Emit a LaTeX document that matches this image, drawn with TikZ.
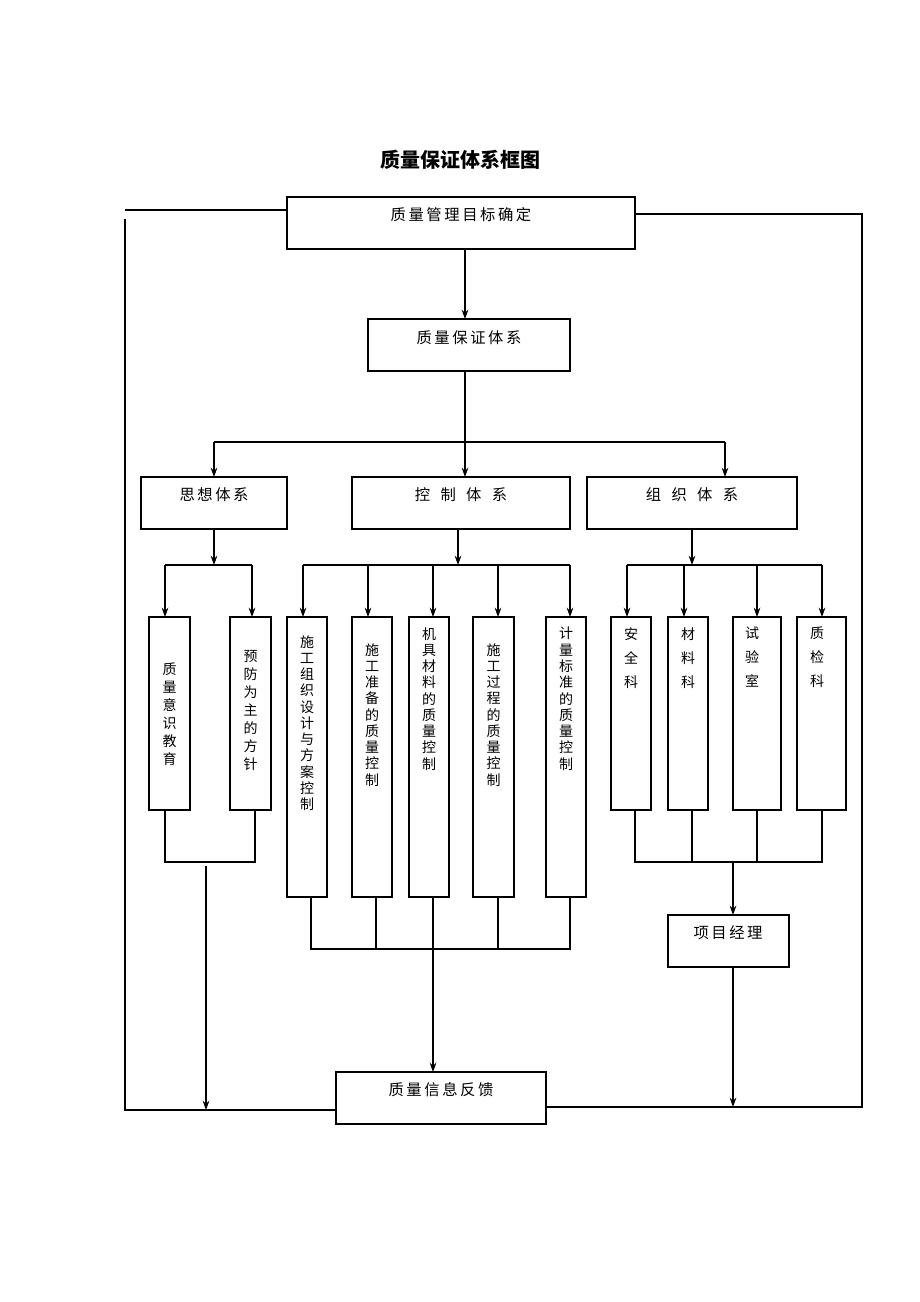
\documentclass[tikz,border=0pt]{standalone}
\usepackage{fontspec}
\setmainfont{Noto Sans CJK SC}
\usetikzlibrary{arrows.meta,positioning}
\tikzset{
  box/.style={draw,thick,inner sep=0},
  lbl/.style={font=\fontsize{11.5}{13}\selectfont,anchor=center},
  vcol/.style={text width=1.1em,align=center,anchor=north,inner sep=0},
  link/.style={thick},
  arr/.style={thick,-{Stealth[length=7pt,width=5pt]}}
}
\begin{document}
\begin{tikzpicture}[x=0.75pt,y=-0.75pt]
\useasboundingbox (0,0) rectangle (920,1302);
\node[font=\bfseries\fontsize{15}{17}\selectfont] (title) at (460,160) {质量保证体系框图};
% main boxes
\draw[box] (287,197) rectangle (635,249);
\coordinate (goal) at (465,249);
\node[lbl] (goaltxt) at (461,215) {质\,量\,管\,理\,目\,标\,确\,定};
\draw[box] (368,319) rectangle (570,371);
\node[lbl] (sys) at (469,338) {质\,量\,保\,证\,体\,系};
\draw[box] (141,477) rectangle (287,529);
\node[lbl] (think) at (214,495) {思\,想\,体\,系};
\draw[box] (352,477) rectangle (570,529);
\node[lbl] (ctrl) at (461,495) {控\ \ \ 制\ \ \ 体\ \ \ 系};
\draw[box] (587,477) rectangle (797,529);
\node[lbl] (org) at (692,495) {组\ \ \ 织\ \ \ 体\ \ \ 系};
\draw[box] (668,915) rectangle (789,967);
\node[lbl] (pm) at (728,933) {项\,目\,经\,理};
\draw[box] (336,1072) rectangle (546,1124);
\node[lbl] (fb) at (441,1090) {质\,量\,信\,息\,反\,馈};
% sub boxes
\foreach \xa/\xb/\yb in {149/190/810,230/271/810,287/327/897,352/392/897,409/449/897,473/514/897,546/586/897,611/651/810,668/708/810,733/781/810,797/846/810}
  \draw[box] (\xa,617) rectangle (\xb,\yb);
\begin{scope}[font=\fontsize{10.5}{13.5}\selectfont]
\node[vcol] (s1) at (169.5,663) {质\\量\\意\\识\\教\\育};
\node[vcol] (s2) at (250.5,650) {预\\防\\为\\主\\的\\方\\针};
\end{scope}
\begin{scope}[font=\fontsize{10.5}{12.2}\selectfont]
\node[vcol] (k1) at (307,635) {施\\工\\组\\织\\设\\计\\与\\方\\案\\控\\制};
\node[vcol] (k2) at (372,643) {施\\工\\准\\备\\的\\质\\量\\控\\制};
\node[vcol] (k3) at (429,627) {机\\具\\材\\料\\的\\质\\量\\控\\制};
\node[vcol] (k4) at (493.5,643) {施\\工\\过\\程\\的\\质\\量\\控\\制};
\node[vcol] (k5) at (566,627) {计\\量\\标\\准\\的\\质\\量\\控\\制};
\end{scope}
\begin{scope}[font=\fontsize{10.5}{18}\selectfont]
\node[vcol] (z1) at (631,627) {安\\全\\科};
\node[vcol] (z2) at (688,627) {材\\料\\科};
\node[vcol] (z3) at (752,627) {试\\验\\室};
\node[vcol] (z4) at (817,627) {质\\检\\科};
\end{scope}
% top connections
\draw[arr] (goal) -- (465,319);
\draw[link] (465,371) -- (465,442);
\draw[link] (214,442) -- (725,442);
\foreach \x in {214,465,725} \draw[arr] (\x,442) -- (\x,477);
% think branch
\draw[arr] (214,529) -- (214,565);
\draw[link] (165,565) -- (252,565);
\foreach \x in {165,252} \draw[arr] (\x,565) -- (\x,617);
% ctrl branch
\draw[arr] (458,529) -- (458,565);
\draw[link] (303,565) -- (570,565);
\foreach \x in {303,368,433,498,570} \draw[arr] (\x,565) -- (\x,617);
% org branch
\draw[arr] (692,529) -- (692,565);
\draw[link] (627,565) -- (822,565);
\foreach \x in {627,684,757,822} \draw[arr] (\x,565) -- (\x,617);
% bottom joins
\draw[link] (165,810) -- (165,862) -- (255,862) -- (255,810);
\draw[arr] (206,866) -- (206,1110);
\draw[link] (311,897) -- (311,949) -- (570,949) -- (570,897);
\foreach \x in {376,498} \draw[link] (\x,897) -- (\x,949);
\draw[arr] (433,897) -- (433,1072);
\draw[link] (635,810) -- (635,862) -- (822,862) -- (822,810);
\foreach \x in {692,757} \draw[link] (\x,810) -- (\x,862);
\draw[arr] (733,862) -- (733,915);
\draw[arr] (733,967) -- (733,1107);
% feedback loops
\draw[link] (287,210) -- (125,210);
\draw[link] (125,219) -- (125,1110) -- (336,1110);
\draw[link] (635,214) -- (862,214) -- (862,1107) -- (546,1107);
\end{tikzpicture}
\end{document}
